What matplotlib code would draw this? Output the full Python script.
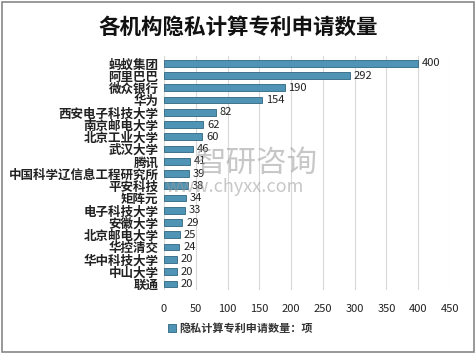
import matplotlib.pyplot as plt
import numpy as np

plt.rcParams['font.family'] = ['Noto Sans CJK SC', 'DejaVu Sans']

# data
orgs = ['蚂蚁集团', '阿里巴巴', '微众银行', '华为', '西安电子科技大学', '南京邮电大学',
        '北京工业大学', '武汉大学', '腾讯', '中国科学辽信息工程研究所', '平安科技',
        '矩阵元', '电子科技大学', '安徽大学', '北京邮电大学', '华控清交',
        '华中科技大学', '中山大学', '联通']
counts = [400, 292, 190, 154, 82, 62, 60, 46, 41, 39, 38, 34, 33, 29, 25, 24, 20, 20, 20]
xticks = [0, 50, 100, 150, 200, 250, 300, 350, 400, 450]

fig = plt.figure(figsize=(4.77, 3.53), dpi=100)
ax = fig.add_axes([164/477, 1-290/353, 286/477, 234/353])

y = np.arange(len(orgs))
ax.barh(y, counts, height=0.55, color='#4f93b5', edgecolor='#2f6680', linewidth=0.6,
        label='隐私计算专利申请数量：项', zorder=3)
for yi, v in zip(y, counts):
    ax.text(v + 6, yi, str(v), va='center', ha='left', fontsize=8, color='#222222', zorder=4)

ax.set_ylim(len(orgs) - 0.5, -0.6)
ax.set_xlim(0, 450)
ax.set_xticks(xticks)
ax.set_yticks(y)
ax.set_yticklabels(orgs, fontsize=9, fontweight='bold', color='#222222')
ax.tick_params(axis='x', labelsize=8, length=0, pad=10, colors='#222222')
ax.tick_params(axis='y', length=0, pad=4)
ax.grid(axis='x', color='#d9d9d9', linewidth=0.8, zorder=0)
for s in ax.spines.values():
    s.set_visible(False)

fig.text(0.5, 1-27/353, '各机构隐私计算专利申请数量', ha='center', va='center',
         fontsize=15.5, fontweight='bold', color='#111111')

leg = fig.legend(loc='center left', bbox_to_anchor=(158/477, 1-328/353), frameon=False,
                 fontsize=8, handlelength=0.7, handleheight=0.7, handletextpad=0.3)
for t in leg.get_texts():
    t.set_color('#333333')
    t.set_fontweight('bold')

# watermark
fig.text(196/477, 1-163/353, '智研咨询', fontsize=22, color='#9a9a9a', alpha=0.55,
         va='center', zorder=5)
fig.text(166/477, 1-187/353, 'www.chyxx.com', fontsize=13, color='#9a9a9a', alpha=0.55,
         va='center', zorder=5)

# border
fig.patches.append(plt.Rectangle((0.004, 0.004), 0.99, 0.99, transform=fig.transFigure,
                                 fill=False, edgecolor='#888888', linewidth=1.2))

fig.savefig('out.png', dpi=100)
